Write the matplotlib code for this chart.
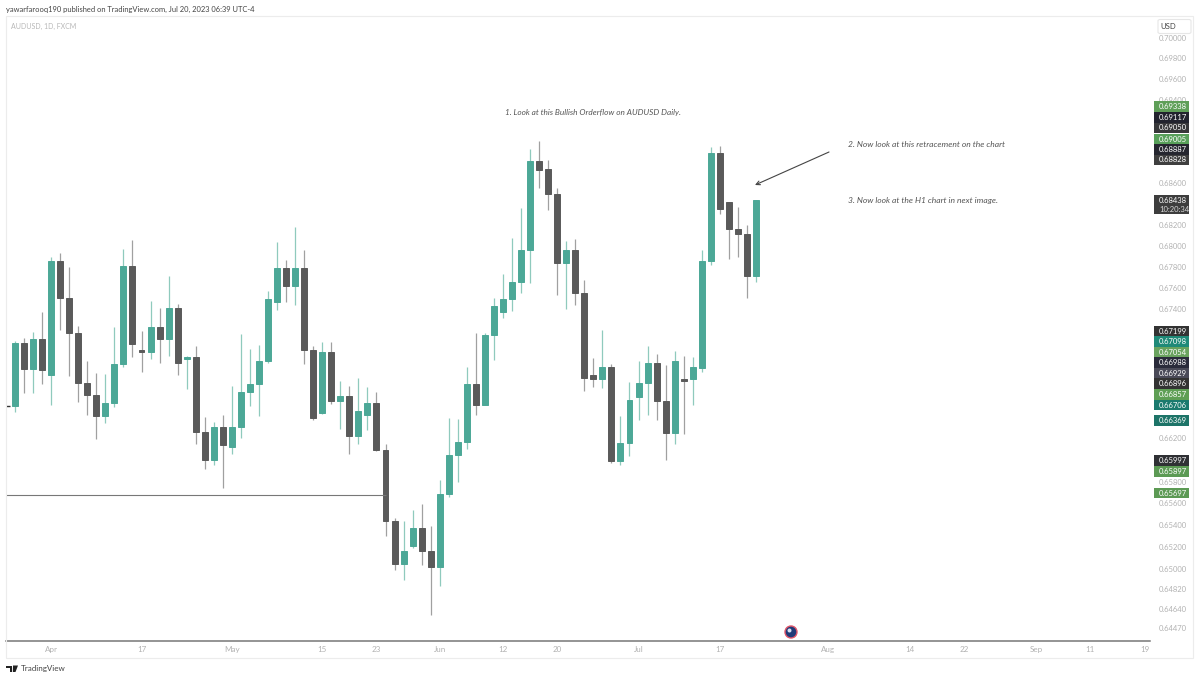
import matplotlib
matplotlib.use('Agg')
import matplotlib.pyplot as plt
import numpy as np
from matplotlib.patches import Rectangle, FancyBboxPatch, Ellipse, Polygon
from matplotlib.ticker import NullLocator

opens = [0.66499, 0.67083, 0.66837, 0.67120, 0.66784, 0.67852, 0.67505, 0.67174, 0.66713, 0.66601,
         0.66406, 0.66527, 0.66884, 0.67804, 0.67021, 0.66999, 0.67233, 0.67120, 0.67411, 0.66937,
         0.66955, 0.66252, 0.66000, 0.66298, 0.66114, 0.66302, 0.66623, 0.66700, 0.66918, 0.67465,
         0.67788, 0.67615, 0.67785, 0.67018, 0.66434, 0.66996, 0.66542, 0.66592, 0.66215, 0.66410,
         0.66521, 0.66086, 0.65435, 0.65044, 0.65207, 0.65374, 0.65165, 0.65016, 0.65682, 0.66046,
         0.66166, 0.66701, 0.66508, 0.67155, 0.67374, 0.67499, 0.67653, 0.67956, 0.68811, 0.68728,
         0.68495, 0.67836, 0.67959, 0.67549, 0.66781, 0.66744, 0.66856, 0.65988, 0.66154, 0.66583,
         0.66707, 0.66896, 0.66545, 0.66246, 0.66747, 0.66744, 0.66853, 0.67855, 0.68881, 0.68414,
         0.68155, 0.68111, 0.67710]
highs = [0.67099, 0.67130, 0.67183, 0.67374, 0.67893, 0.67930, 0.67798, 0.67245, 0.66915, 0.66800,
         0.66797, 0.67233, 0.67968, 0.68057, 0.67192, 0.67474, 0.67411, 0.67716, 0.67449, 0.66965,
         0.67052, 0.66394, 0.66351, 0.66416, 0.66685, 0.67167, 0.67027, 0.67064, 0.67568, 0.68032,
         0.67867, 0.68177, 0.67962, 0.67058, 0.67089, 0.67095, 0.66728, 0.66679, 0.66753, 0.66673,
         0.66623, 0.66148, 0.65465, 0.65441, 0.65541, 0.65596, 0.65389, 0.65816, 0.66385, 0.66376,
         0.66856, 0.67174, 0.67177, 0.67505, 0.67735, 0.68070, 0.68358, 0.68926, 0.68997, 0.68821,
         0.68549, 0.68041, 0.68063, 0.67678, 0.66940, 0.67202, 0.66887, 0.66406, 0.66716, 0.66912,
         0.67052, 0.66983, 0.66876, 0.67005, 0.66965, 0.66952, 0.67956, 0.68942, 0.68955, 0.68414,
         0.68368, 0.68196, 0.68438]
lows = [0.66440, 0.66617, 0.66617, 0.66704, 0.66508, 0.67202, 0.66772, 0.66530, 0.66410, 0.66191,
        0.66339, 0.66484, 0.66856, 0.66952, 0.66812, 0.66933, 0.66899, 0.66965, 0.66781, 0.66657,
        0.66148, 0.65914, 0.65954, 0.65740, 0.66055, 0.66203, 0.66493, 0.66406, 0.66896, 0.67396,
        0.67465, 0.67443, 0.66887, 0.66369, 0.66422, 0.66515, 0.66286, 0.66049, 0.66148, 0.66271,
        0.66077, 0.65298, 0.64989, 0.64905, 0.65192, 0.65034, 0.64585, 0.64850, 0.65654, 0.65795,
        0.66098, 0.66416, 0.66502, 0.66927, 0.67317, 0.67380, 0.67553, 0.67647, 0.68546, 0.68342,
        0.67531, 0.67405, 0.67443, 0.66632, 0.66673, 0.66663, 0.65969, 0.65954, 0.66031, 0.66369,
        0.66416, 0.66369, 0.65994, 0.66148, 0.66234, 0.66508, 0.66809, 0.67820, 0.68304, 0.67877,
        0.67889, 0.67502, 0.67653]
closes = [0.67083, 0.66837, 0.67120, 0.66831, 0.67852, 0.67502, 0.67174, 0.66713, 0.66601, 0.66406,
          0.66527, 0.66887, 0.67804, 0.67074, 0.66999, 0.67233, 0.67120, 0.67411, 0.66899, 0.66955,
          0.66252, 0.66000, 0.66298, 0.66132, 0.66302, 0.66626, 0.66704, 0.66918, 0.67499, 0.67788,
          0.67615, 0.67785, 0.67018, 0.66385, 0.66996, 0.66546, 0.66592, 0.66215, 0.66453, 0.66524,
          0.66086, 0.65435, 0.65044, 0.65168, 0.65374, 0.65162, 0.65016, 0.65685, 0.66046, 0.66166,
          0.66704, 0.66508, 0.67158, 0.67430, 0.67499, 0.67656, 0.67956, 0.68811, 0.68725, 0.68495,
          0.67836, 0.67959, 0.67549, 0.66756, 0.66744, 0.66856, 0.65988, 0.66154, 0.66552, 0.66707,
          0.66896, 0.66542, 0.66246, 0.66918, 0.66728, 0.66856, 0.67855, 0.68881, 0.68352, 0.68155,
          0.68111, 0.67710, 0.68438]

date_bars = [4, 14, 24, 34, 40, 47, 54, 60, 69, 78, 90, 99, 105, 113, 119, 125]
date_labels = ['Apr', '17', 'May', '15', '23', 'Jun', '12', '20', 'Jul', '17', 'Aug', '14', '22', 'Sep', '11', '19']
price_ticks = [0.70, 0.698, 0.696, 0.694, 0.686, 0.682, 0.68, 0.678, 0.676, 0.674, 0.662, 0.658,
               0.656, 0.654, 0.652, 0.65, 0.6482, 0.6464, 0.6447]
price_tick_labels = ['0.70000', '0.69800', '0.69600', '0.69400', '0.68600', '0.68200', '0.68000', '0.67800',
                     '0.67600', '0.67400', '0.66200', '0.65800', '0.65600', '0.65400', '0.65200', '0.65000',
                     '0.64820', '0.64640', '0.64470']

badge_texts = ['0.69338', '0.69117', '0.69050', '0.69005', '0.68887', '0.68828', '0.67199', '0.67098', '0.67054',
               '0.66988', '0.66929', '0.66896', '0.66857', '0.66706', '0.66369', '0.65997', '0.65897', '0.65697']
badge_rows = [106.7, 117.5, 128, 139, 149.5, 160, 331, 341.7, 352.3, 362.7, 373.3, 383.7, 394.3, 405, 420.7,
              460.3, 471.7, 493]
badge_colors = ['#5f9f58', '#22232e', '#38383a', '#58a05a', '#25262f', '#3f3f3f', '#333333', '#1f8a78', '#6aa35f',
                '#2a2b3b', '#4a4a58', '#333333', '#5f9f55', '#1a7a6e', '#1d7468', '#2f3034', '#5c9a54', '#5c9a54']

GREEN = '#4ca897'
DARK = '#5a5a5a'
FONT = ['Lato', 'DejaVu Sans']
SCALE_SIZE = 5.5


def fx(x):
    return x / 1200


def fy(y):
    return 1 - y / 680


fig = plt.figure(figsize=(12, 6.8), dpi=100)
ax = fig.add_axes([fx(6), fy(641), fx(1150) - fx(6), fy(16) - fy(641)])
ax.patch.set_alpha(0)

# pane border
fig.add_artist(Rectangle((fx(6), fy(658)), fx(1193) - fx(6), fy(16) - fy(658), transform=fig.transFigure,
                         fill=False, ec='#ececec', lw=0.8))

ax.set_yscale('log')
ax.set_ylim(0.64352, 0.70215)
ax.set_xlim(-0.996, 125.6)

x = np.arange(len(opens))
o = np.array(opens)
c = np.array(closes)
colors = np.where(c >= o, GREEN, DARK)
wick_colors = np.where(c >= o, '#8fcabd', '#a0a0a0')
ax.vlines(x, lows, highs, colors=wick_colors, lw=0.9, zorder=2)
ax.bar(x, np.abs(c - o), bottom=np.minimum(o, c), width=0.66, color=colors, edgecolor=colors, lw=0.7, zorder=3)

# horizontal level and the small mark at the left edge
ax.hlines(0.65677, -0.996, 41, color='#777777', lw=0.8, zorder=4)
ax.hlines(0.66498, -0.996, -0.6, color='#333333', lw=1.0, zorder=4)

for s in ['top', 'left', 'right']:
    ax.spines[s].set_visible(False)
ax.spines['bottom'].set_color('#777777')
ax.spines['bottom'].set_linewidth(1.1)

ax.set_xticks(date_bars)
ax.set_xticklabels(date_labels, fontsize=5.8, color='#b2b2b2', family=FONT)
ax.tick_params(axis='x', length=0, pad=3.4)

ax.yaxis.tick_right()
ax.yaxis.set_minor_locator(NullLocator())
ax.set_yticks(price_ticks)
ax.set_yticklabels(price_tick_labels, fontsize=SCALE_SIZE, color='#b2b2b2', family=FONT)
ax.tick_params(axis='y', length=0, pad=6.5)

# price badges on the scale
for text, row, col in zip(badge_texts, badge_rows, badge_colors):
    fig.add_artist(Rectangle((fx(1154), fy(row + 5.4)), fx(35), 10.8 / 680, transform=fig.transFigure,
                             fc=col, ec='none', zorder=5))
    fig.text(fx(1159), fy(row), text, color='white', fontsize=SCALE_SIZE, family=FONT, va='center', ha='left', zorder=6)
fig.add_artist(Rectangle((fx(1154), fy(214)), fx(35), 19 / 680, transform=fig.transFigure, fc='#3d3d3d', ec='none', zorder=5))
fig.text(fx(1159), fy(200), '0.68438', color='white', fontsize=SCALE_SIZE, family=FONT, va='center', zorder=6)
fig.text(fx(1159), fy(209), '10:20:34', color='#d8d8d8', fontsize=SCALE_SIZE, family=FONT, va='center', zorder=6)

# currency button
fig.add_artist(FancyBboxPatch((fx(1158), fy(33.5)), fx(33), 14 / 680, boxstyle='round,pad=0,rounding_size=0.002',
                              transform=fig.transFigure, fc='white', ec='#e6e6e6', lw=0.8, zorder=5))
fig.text(fx(1168.5), fy(26.5), 'USD', color='#444444', fontsize=5.6, family=FONT, ha='center', va='center', zorder=6)

# header and legend
fig.text(fx(6), fy(9), 'yawarfarooq190 published on TradingView.com, Jul 20, 2023 06:39 UTC-4',
         color='#444444', fontsize=5.4, family=FONT, va='center')
fig.text(fx(11), fy(26), 'AUDUSD, 1D, FXCM', color='#b8b8b8', fontsize=5.0, family=FONT, va='center')

# notes on the chart
for note, nx, ny, size in [('1. Look at this Bullish Orderflow on AUDUSD Daily.', 505, 113, 5.95),
                           ('2. Now look at this retracement on the chart', 848, 144.5, 6.1),
                           ('3. Now look at the H1 chart in next image.', 848, 200, 6.1)]:
    fig.text(fx(nx), fy(ny), note, color='#555555', fontsize=size, style='italic', family=FONT, va='center')

ax.annotate('', xy=(fx(755), fy(185)), xytext=(fx(829), fy(152)), xycoords='figure fraction',
            textcoords='figure fraction',
            arrowprops=dict(arrowstyle='->', color='#444444', lw=0.8, shrinkA=0, shrinkB=0, mutation_scale=7))

# flag marker on the time axis
fig.add_artist(Ellipse((fx(791), fy(632)), 12 / 1200, 12 / 680, transform=fig.transFigure,
                       fc='#1f3a78', ec='#e0566a', lw=1.0, zorder=7))
fig.add_artist(Ellipse((fx(789.5), fy(630.5)), 4 / 1200, 4 / 680, transform=fig.transFigure,
                       fc='#d8dff0', ec='none', zorder=8))

# logo and name at the bottom
logo_bits = [[(6, 665.5), (12, 665.5), (12, 672), (9.5, 672), (9.5, 668), (6, 668)],
             [(13, 665.5), (18, 665.5), (15.5, 672), (12.8, 672)]]
for bit in logo_bits:
    fig.add_artist(Polygon([(fx(a), fy(b)) for a, b in bit], transform=fig.transFigure, fc='#222222', ec='none'))
fig.text(fx(20.5), fy(669), 'TradingView', color='#444444', fontsize=5.8, family=FONT, va='center')

fig.savefig('out.png', dpi=100)
